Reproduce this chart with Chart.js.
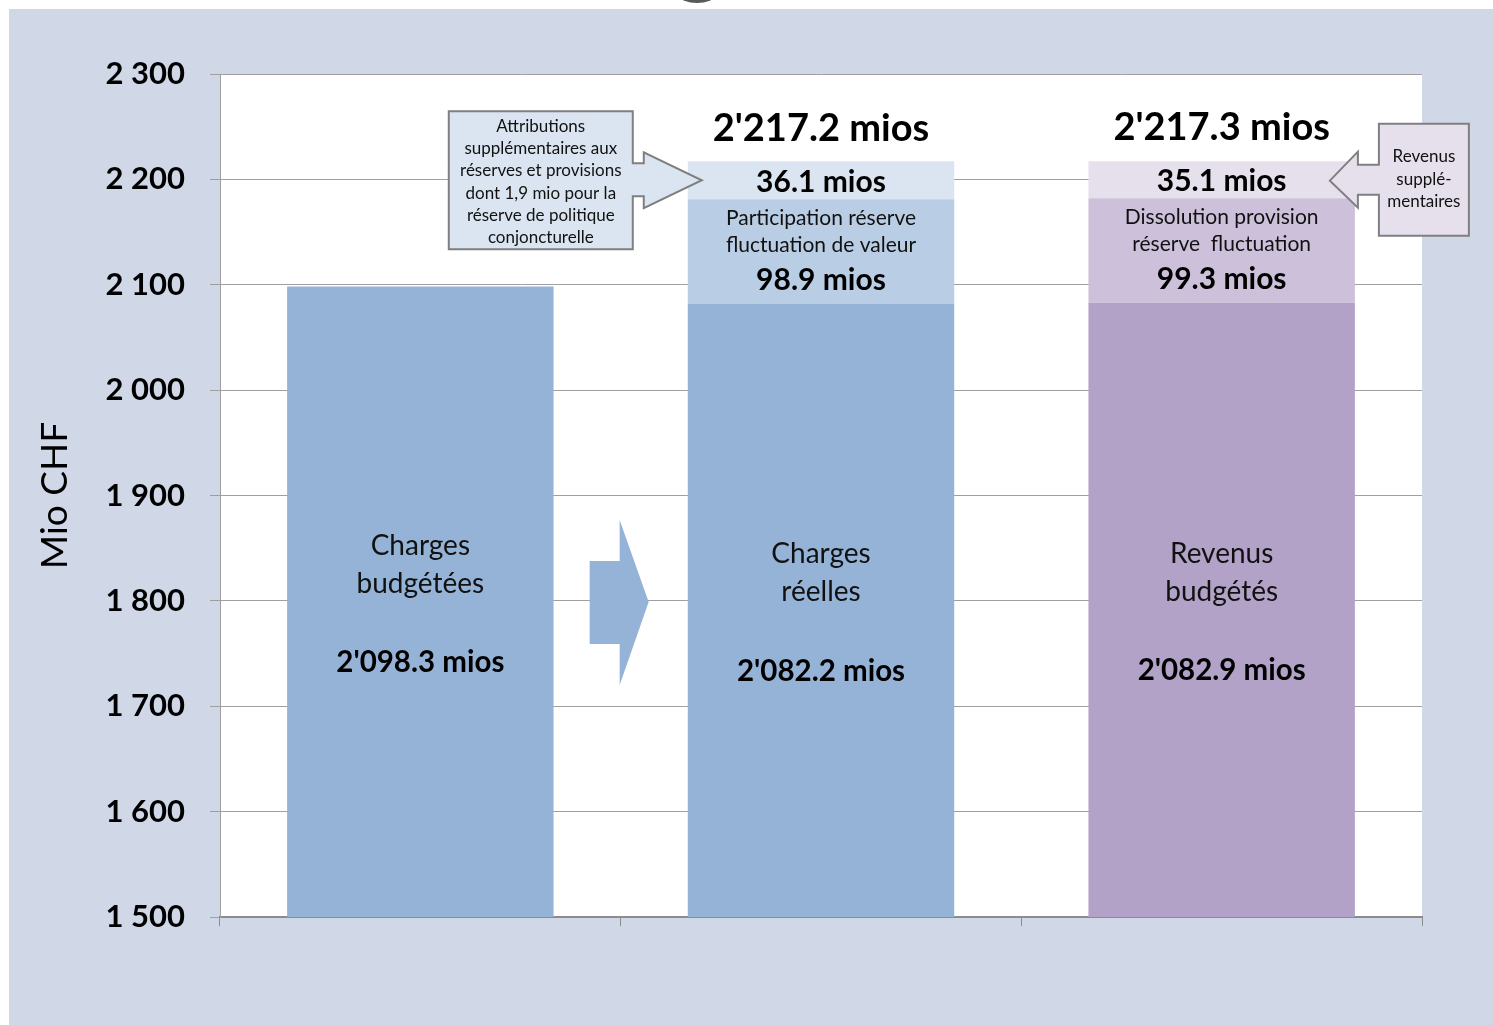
<!DOCTYPE html>
<html>
<head>
<meta charset="utf-8">
<script src="https://cdn.jsdelivr.net/npm/chart.js@4.4.1/dist/chart.umd.min.js"></script>
<style>
  html, body { margin: 0; padding: 0; background: #ffffff; width: 1493px; height: 1025px; overflow: hidden; }
  #frame { position: absolute; left: 9px; top: 9px; width: 1484px; height: 1016px; background: #d0d8e8; }
  #c { position: absolute; left: 0; top: 0; }
  #gtail { position: absolute; left: 680px; top: -10px; width: 34px; height: 13px; border-radius: 50%; border-bottom: 4px solid #595959; box-sizing: border-box; }
</style>
</head>
<body>
<div id="gtail"></div>
<div id="frame"><canvas id="c" width="1484" height="1016"></canvas></div>
<script>
// ---- Data ----
const categories = ['Charges budgétées', 'Charges réelles', 'Revenus budgétés'];
const baseValues = [2098.3, 2082.2, 2082.9];
const reserveValues = [null, 98.9, 99.3];
const extraValues = [null, 36.1, 35.1];
const totalValues = [null, 2217.2, 2217.3];
const baseLabelLines = [['Charges', 'budgétées'], ['Charges', 'réelles'], ['Revenus', 'budgétés']];
const reserveLabelLines = [null, ['Participation réserve', 'fluctuation de valeur'], ['Dissolution provision', 'réserve  fluctuation']];
const yTickValues = [1500, 1600, 1700, 1800, 1900, 2000, 2100, 2200, 2300];
const yTickLabels = ['1 500', '1 600', '1 700', '1 800', '1 900', '2 000', '2 100', '2 200', '2 300'];
const yTitle = 'Mio CHF';
const calloutLeftLines = ['Attributions', 'supplémentaires aux', 'réserves et provisions', 'dont 1,9 mio pour la', 'réserve de politique', 'conjoncturelle'];
const calloutRightLines = ['Revenus', 'supplé-', 'mentaires'];

// ---- Styles ----
const baseColors = ['#95b3d7', '#95b3d7', '#b2a2c7'];
const reserveColors = ['#b9cde5', '#b9cde5', '#ccc0da'];
const extraColors = ['#dbe5f1', '#dbe5f1', '#e5e0ec'];
const FONT = 'Lato, "Open Sans", sans-serif';

function fmt(v) {
  const parts = v.toFixed(1).split('.');
  return parts[0].replace(/\B(?=(\d{3})+(?!\d))/g, "'") + '.' + parts[1] + ' mios';
}

const plotBg = {
  id: 'plotBg',
  beforeDraw(chart) {
    const { ctx, chartArea: a } = chart;
    ctx.save();
    ctx.fillStyle = '#ffffff';
    ctx.fillRect(a.left, a.top, a.right - a.left, a.bottom - a.top);
    ctx.restore();
  }
};

function txt(ctx, s, x, y, font) {
  ctx.font = font;
  ctx.fillText(s, x, y);
}

const annotations = {
  id: 'annotations',
  afterDatasetsDraw(chart) {
    const { ctx, chartArea } = chart;
    const yS = chart.scales.y;
    const m0 = chart.getDatasetMeta(0).data;
    const m1 = chart.getDatasetMeta(1).data;
    const m2 = chart.getDatasetMeta(2).data;
    ctx.save();
    ctx.textAlign = 'center';
    ctx.textBaseline = 'middle';
    ctx.fillStyle = '#000';

    // base bar labels
    for (let i = 0; i < categories.length; i++) {
      const el = m0[i];
      const bottom = Math.min(el.base, chartArea.bottom);
      const cy = (el.y + bottom) / 2;
      ctx.fillStyle = '#111';
      txt(ctx, baseLabelLines[i][0], el.x, cy - 56, '28px ' + FONT);
      txt(ctx, baseLabelLines[i][1], el.x, cy - 18, '28px ' + FONT);
      ctx.fillStyle = '#000';
      txt(ctx, fmt(baseValues[i]), el.x, cy + 61, 'bold 29.5px ' + FONT);
    }
    // reserve + extra + total
    for (let i = 0; i < categories.length; i++) {
      if (reserveValues[i] == null) continue;
      const r = m1[i];
      const rc = (r.y + r.base) / 2;
      ctx.fillStyle = '#111';
      txt(ctx, reserveLabelLines[i][0], r.x, rc - 33, '21px ' + FONT);
      txt(ctx, reserveLabelLines[i][1], r.x, rc - 6, '21px ' + FONT);
      ctx.fillStyle = '#000';
      txt(ctx, fmt(reserveValues[i]), r.x, rc + 29, 'bold 30px ' + FONT);
      const e = m2[i];
      const ec = (e.y + e.base) / 2;
      txt(ctx, fmt(extraValues[i]), e.x, ec + 2, 'bold 30px ' + FONT);
      txt(ctx, fmt(totalValues[i]), e.x, e.y - 33, 'bold 38px ' + FONT);
    }

    // big arrow between bar 1 and bar 2
    const B = ((m0[0].x + m0[0].width / 2) + (m0[1].x - m0[1].width / 2)) / 2;
    const Ya = yS.getPixelForValue(1800) + 1;
    ctx.beginPath();
    ctx.moveTo(B - 31, Ya - 41);
    ctx.lineTo(B - 1, Ya - 41);
    ctx.lineTo(B - 1, Ya - 82);
    ctx.lineTo(B + 28, Ya);
    ctx.lineTo(B - 1, Ya + 83);
    ctx.lineTo(B - 1, Ya + 42);
    ctx.lineTo(B - 31, Ya + 42);
    ctx.closePath();
    ctx.fillStyle = '#95b3d7';
    ctx.fill();

    // left callout (points to bar 2 top segment)
    const e1 = m2[1];
    const L = e1.x - e1.width / 2;
    const Yc = (e1.y + e1.base) / 2;
    ctx.beginPath();
    ctx.moveTo(L - 239, Yc - 69);
    ctx.lineTo(L - 55, Yc - 69);
    ctx.lineTo(L - 55, Yc - 17);
    ctx.lineTo(L - 44, Yc - 17);
    ctx.lineTo(L - 44, Yc - 28);
    ctx.lineTo(L + 14, Yc);
    ctx.lineTo(L - 44, Yc + 28);
    ctx.lineTo(L - 44, Yc + 16);
    ctx.lineTo(L - 55, Yc + 16);
    ctx.lineTo(L - 55, Yc + 69);
    ctx.lineTo(L - 239, Yc + 69);
    ctx.closePath();
    ctx.fillStyle = extraColors[1];
    ctx.fill();
    ctx.lineWidth = 2;
    ctx.strokeStyle = '#7f7f7f';
    ctx.stroke();
    ctx.fillStyle = '#111';
    calloutLeftLines.forEach((s, k) => txt(ctx, s, L - 147, Yc - 54 + k * 22.3, '17px ' + FONT));

    // right callout (points to bar 3 top segment)
    const e2 = m2[2];
    const R = e2.x + e2.width / 2;
    const Yd = (e2.y + e2.base) / 2 + 1;
    ctx.beginPath();
    ctx.moveTo(R + 114, Yd - 57);
    ctx.lineTo(R + 24, Yd - 57);
    ctx.lineTo(R + 24, Yd - 16);
    ctx.lineTo(R + 3, Yd - 16);
    ctx.lineTo(R + 3, Yd - 29);
    ctx.lineTo(R - 25, Yd);
    ctx.lineTo(R + 3, Yd + 27);
    ctx.lineTo(R + 3, Yd + 14);
    ctx.lineTo(R + 24, Yd + 14);
    ctx.lineTo(R + 24, Yd + 55);
    ctx.lineTo(R + 114, Yd + 55);
    ctx.closePath();
    ctx.fillStyle = extraColors[2];
    ctx.fill();
    ctx.lineWidth = 2;
    ctx.strokeStyle = '#7f7f7f';
    ctx.stroke();
    ctx.fillStyle = '#111';
    calloutRightLines.forEach((s, k) => txt(ctx, s, R + 69, Yd - 24 + k * 22.5, '17px ' + FONT));

    ctx.restore();
  }
};

function build() {
  new Chart(document.getElementById('c'), {
    type: 'bar',
    data: {
      labels: categories,
      datasets: [
        { data: baseValues, backgroundColor: baseColors, borderWidth: 0 },
        { data: reserveValues, backgroundColor: reserveColors, borderWidth: 0 },
        { data: extraValues, backgroundColor: extraColors, borderWidth: 0 }
      ]
    },
    options: {
      responsive: false,
      animation: false,
      devicePixelRatio: 1,
      categoryPercentage: 1,
      barPercentage: 0.665,
      layout: { padding: { left: 0, right: 71, top: 65, bottom: 0 } },
      plugins: { legend: { display: false }, tooltip: { enabled: false }, title: { display: false } },
      scales: {
        x: {
          stacked: true,
          ticks: { display: false },
          grid: { drawOnChartArea: false, drawTicks: true, tickLength: 9, color: '#8c8c8c', offset: true },
          border: { color: '#8c8c8c', width: 2 },
          afterFit(s) { s.height = 108; }
        },
        y: {
          stacked: true,
          min: 1500,
          max: 2300,
          afterBuildTicks(s) { s.ticks = yTickValues.map(v => ({ value: v })); },
          ticks: {
            padding: 25,
            color: '#000',
            font: { family: FONT, size: 31, weight: 'bold' },
            callback: (v) => yTickLabels[yTickValues.indexOf(v)]
          },
          grid: { color: '#a0a0a0', lineWidth: 1, tickLength: 10 },
          border: { color: '#a0a0a0', width: 1 },
          title: { display: true, text: yTitle, color: '#000', font: { family: FONT, size: 37 }, padding: { top: 24, bottom: 0 } },
          afterFit(s) { s.width = 211; }
        }
      }
    },
    plugins: [plotBg, annotations]
  });
}

if (document.fonts && document.fonts.load) {
  Promise.all([document.fonts.load('27px Lato'), document.fonts.load('bold 27px Lato')]).then(build, build);
} else { build(); }
</script>
</body>
</html>
